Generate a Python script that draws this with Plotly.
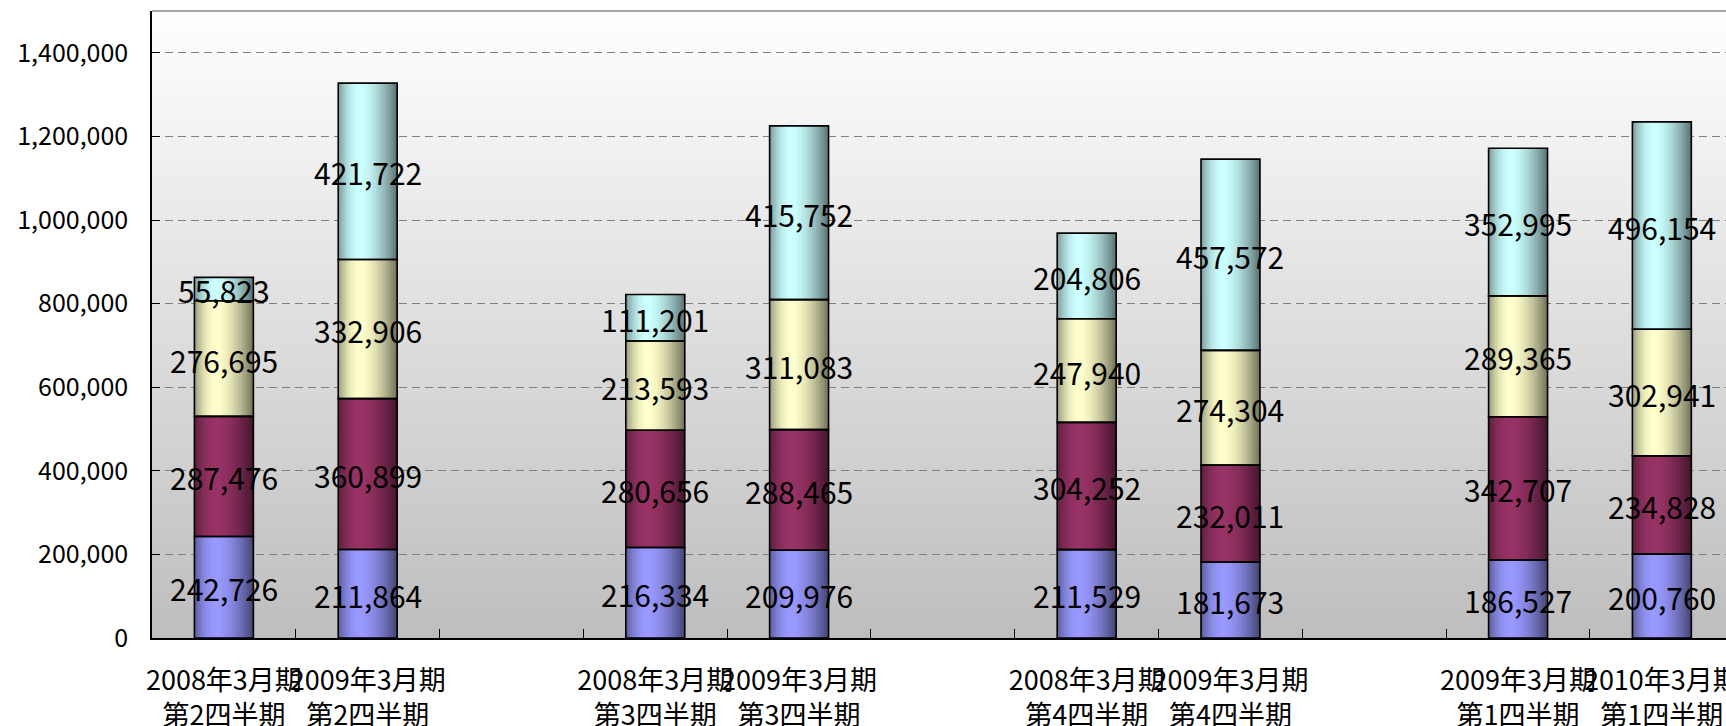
import base64
import struct
import zlib
import plotly.graph_objects as go

# ---------------- data ----------------
categories = [
    "2008年3月期<br>第2四半期", "2009年3月期<br>第2四半期", " ",
    "2008年3月期<br>第3四半期", "2009年3月期<br>第3四半期", "  ",
    "2008年3月期<br>第4四半期", "2009年3月期<br>第4四半期", "   ",
    "2009年3月期<br>第1四半期", "2010年3月期<br>第1四半期",
]
bar_categories = [c for c in categories if c.strip()]

series1 = [242726, 211864, 216334, 209976, 211529, 181673, 186527, 200760]
series2 = [287476, 360899, 280656, 288465, 304252, 232011, 342707, 234828]
series3 = [276695, 332906, 213593, 311083, 247940, 274304, 289365, 302941]
series4 = [55823, 421722, 111201, 415752, 204806, 457572, 352995, 496154]

y_ticks = [0, 200000, 400000, 600000, 800000, 1000000, 1200000, 1400000]

series_list = [series1, series2, series3, series4]
series_colors = [(0x99, 0x99, 0xFF), (0x99, 0x33, 0x66), (0xFF, 0xFF, 0xCC), (0xCC, 0xFF, 0xFF)]

FONT = "Noto Sans CJK JP"
BAR_W = 0.41
N_STRIPS = 28


def shade(t):
    tp = 0.38
    if t <= tp:
        return 1 - 0.40 * ((tp - t) / tp) ** 2
    return 1 - 0.56 * ((t - tp) / (1 - tp)) ** 1.6


def rgb(c, f):
    return "rgb(%d,%d,%d)" % tuple(int(round(v * f)) for v in c)


def png_gradient(top, bottom, h=256):
    rows = []
    for i in range(h):
        g = int(round(top + (bottom - top) * i / (h - 1)))
        rows.append(b"\x00" + bytes([g, g]))
    raw = b"".join(rows)

    def chunk(t, d):
        return struct.pack(">I", len(d)) + t + d + struct.pack(">I", zlib.crc32(t + d) & 0xFFFFFFFF)

    png = (b"\x89PNG\r\n\x1a\n"
           + chunk(b"IHDR", struct.pack(">IIBBBBB", 2, h, 8, 0, 0, 0, 0))
           + chunk(b"IDAT", zlib.compress(raw))
           + chunk(b"IEND", b""))
    return "data:image/png;base64," + base64.b64encode(png).decode()


fig = go.Figure()

# bases for stacking
bases = []
running = [0] * len(bar_categories)
for s in series_list:
    bases.append(list(running))
    running = [r + v for r, v in zip(running, s)]

# shaded strips (cylinder-like gradient); each strip overlaps the next so no seams show
strip_w = BAR_W / N_STRIPS
for s, base, col in zip(series_list, bases, series_colors):
    for k in range(N_STRIPS):
        t = (k + 0.5) / N_STRIPS
        start = -BAR_W / 2 + k * strip_w
        w = BAR_W / 2 - start if k == N_STRIPS - 1 else strip_w * 2.0
        fig.add_trace(go.Bar(
            x=bar_categories, y=s, base=base,
            width=w, offset=start,
            marker=dict(color=rgb(col, shade(t)), line=dict(width=0)),
            hoverinfo="skip", showlegend=False,
        ))

# outlines
for s, base in zip(series_list, bases):
    fig.add_trace(go.Bar(
        x=bar_categories, y=s, base=base,
        width=BAR_W, offset=-BAR_W / 2,
        marker=dict(color="rgba(0,0,0,0)", line=dict(color="black", width=1.6)),
        hoverinfo="skip", showlegend=False,
    ))

# data labels (centred on each segment)
annotations = []
for s, base in zip(series_list, bases):
    for cat, b, v in zip(bar_categories, base, s):
        annotations.append(dict(
            x=cat, y=b + v / 2, xref="x", yref="y",
            text=f"{v:,}", showarrow=False, yshift=-1,
            font=dict(family=FONT, size=30, color="black"),
        ))

fig.update_layout(
    width=1726, height=726,
    margin=dict(l=152, r=0, t=11, b=88, autoexpand=False),
    paper_bgcolor="white",
    plot_bgcolor="rgba(0,0,0,0)",
    barmode="overlay",
    showlegend=False,
    font=dict(family=FONT, color="black"),
    annotations=annotations,
    images=[dict(
        source=png_gradient(255, 190), xref="paper", yref="paper",
        x=0, y=1, sizex=1, sizey=1, sizing="stretch",
        xanchor="left", yanchor="top", layer="below",
    )],
    shapes=[dict(type="line", xref="paper", yref="paper", x0=0, x1=1, y0=1, y1=1,
                 line=dict(color="#8a8a8a", width=1.5))],
)

fig.update_xaxes(
    type="category", categoryorder="array", categoryarray=categories,
    range=[-0.5, 10.446],
    tickson="boundaries", ticks="inside", ticklen=9, tickcolor="black", tickwidth=1,
    showline=True, linecolor="black", linewidth=1.5,
    showgrid=False, zeroline=False,
    tickangle=0,
    tickfont=dict(family=FONT, size=27, color="black"),
    ticklabelstandoff=18,
    automargin=False,
)
fig.update_yaxes(
    range=[0, 1500000], tickvals=y_ticks, tickformat=",",
    ticks="inside", ticklen=8, tickcolor="black", tickwidth=1,
    showline=True, linecolor="black", linewidth=1.5,
    showgrid=True, gridcolor="#808080", gridwidth=1, griddash="8px,5px",
    zeroline=False,
    tickfont=dict(family=FONT, size=25, color="black"),
    ticklabelstandoff=17,
    automargin=False,
)

fig.write_html("out.html")
